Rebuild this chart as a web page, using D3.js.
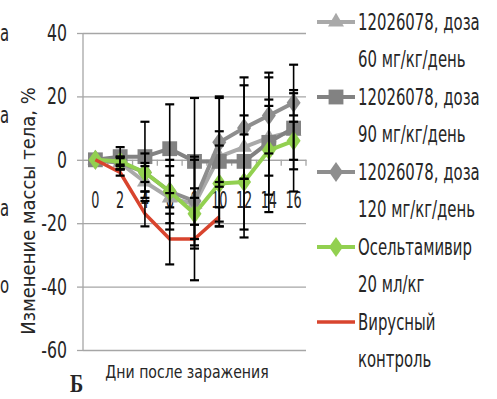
<!DOCTYPE html>
<html><head><meta charset="utf-8">
<script src="https://cdn.jsdelivr.net/npm/d3@7"></script>
<style>
body{margin:0;background:#fff;}
svg{display:block;}
text{font-family:"DejaVu Sans Condensed","Liberation Sans Narrow",sans-serif;fill:#262626;}
</style></head>
<body>
<svg id="c" width="497" height="399"></svg>
<script>
const days = [0, 2, 4, 6, 8, 10, 12, 14, 16];
const yTicks = [-60, -40, -20, 0, 20, 40];
const dose60 = [0, -1, -7, -12, -14, 1, 4, 7, 9];
const dose60Err = [0, 2, 5, 10, 14, 8, 10, 12, 12];
const dose90 = [0, 1, 1, 3.5, -0.5, -0.5, -0.5, 5.5, 10];
const dose90Err = [0, 3, 11, 14, 20, 20.5, 24, 22, 20];
const dose120 = [0, -1, -4, -10, -13, 5.5, 10, 14, 18];
const dose120Err = [0, 2, 6, 10, 14, 14, 16, 12, 4];
const oselt = [0, -0.5, -4, -10, -17, -7.5, -7, 3, 6];
const oseltErr = [0, 1, 3, 5, 8, 12, 15, 14, 6];
const virus = [0, -4, -17, -25, -25, -18];
const virusErr = [0, 1, 4, 8, 13, 3];
const legendLines = [
  ["12026078, доза", "60 мг/кг/день"],
  ["12026078, доза", "90 мг/кг/день"],
  ["12026078, доза", "120 мг/кг/день"],
  ["Осельтамивир", "20 мл/кг"],
  ["Вирусный", "контроль"]
];
const leftFragments = ["а", "а", "а", "о"];

const svg = d3.select("#c");
const x = d3.scalePoint().domain(days).range([83, 306]).padding(0.5);
const xb = d3.scaleBand().domain(days).range([83, 306]);
const y = d3.scaleLinear().domain([-60, 40]).range([350, 33]);

function label(parent, tx, ty, str, size, sx, anchor) {
  return parent.append("text")
    .attr("transform", `translate(${tx},${ty}) scale(${sx},1)`)
    .attr("text-anchor", anchor || "start").attr("dy", "0.35em")
    .style("font-size", size + "px").text(str);
}

// gridlines
const grid = svg.append("g").attr("transform", "translate(83,0)")
  .call(d3.axisLeft(y).tickValues(yTicks).tickSize(-223).tickFormat(""));
grid.select(".domain").remove();
grid.selectAll("line").attr("stroke", "#a6a6a6").attr("stroke-width", 1.3);

// y axis
const ya = svg.append("g").attr("transform", "translate(83,0)")
  .call(d3.axisLeft(y).tickValues(yTicks).tickSize(6).tickFormat(""));
ya.select(".domain").attr("stroke", "#a6a6a6").attr("stroke-width", 1.3).attr("d", "M0," + y(-60) + "V" + y(40));
ya.selectAll("line").attr("stroke", "#a6a6a6").attr("stroke-width", 1.3);
const ytl = svg.append("g");
yTicks.forEach(v => label(ytl, 67, y(v), String(v), 23, 0.76, "end"));

// x axis at zero
const xa = svg.append("g").attr("transform", "translate(0," + y(0) + ")")
  .call(d3.axisBottom(x).tickSize(0).tickFormat(""));
xa.select(".domain").attr("stroke", "#a6a6a6").attr("stroke-width", 1.3);
svg.append("g").selectAll("line").data(days.slice(1).concat(["end"])).join("line")
  .attr("x1", d => d === "end" ? 306 : xb(d)).attr("x2", d => d === "end" ? 306 : xb(d))
  .attr("y1", y(0)).attr("y2", y(0) + 6)
  .attr("stroke", "#a6a6a6").attr("stroke-width", 1.3);
const xtl = svg.append("g");
days.forEach(d => label(xtl, x(d), 200, String(d), 23, 0.62, "middle"));

const series = [
  {vals: dose60, err: dose60Err, color: "#a9a9a9", marker: "tri", w: 4},
  {vals: dose90, err: dose90Err, color: "#828282", marker: "sq", w: 4},
  {vals: dose120, err: dose120Err, color: "#8e8e8e", marker: "dia", w: 4},
  {vals: oselt, err: oseltErr, color: "#92d050", marker: "dia", w: 4},
  {vals: virus, err: virusErr, color: "#d8442e", marker: "none", w: 3.5}
];
function markerPath(type) {
  if (type === "tri") return d3.symbol(d3.symbolTriangle, 110)();
  if (type === "sq") return d3.symbol(d3.symbolSquare, 220)();
  if (type === "dia") return "M0,-10L7,0L0,10L-7,0Z";
  return null;
}
const line = d3.line().x((d, i) => x(days[i])).y(d => y(d));
series.forEach(s => {
  const g = svg.append("g");
  g.append("path").attr("d", line(s.vals)).attr("fill", "none")
    .attr("stroke", s.color).attr("stroke-width", s.w).attr("stroke-linejoin", "round");
  if (s.marker !== "none") {
    g.selectAll("path.m").data(s.vals).join("path").attr("class", "m")
      .attr("d", markerPath(s.marker))
      .attr("transform", (d, i) => `translate(${x(days[i])},${y(d)})`)
      .attr("fill", s.color);
  }
});
// error bars
series.forEach(s => {
  const g = svg.append("g");
  s.vals.forEach((v, i) => {
    const e = s.err[i];
    if (!e) return;
    const cx = x(days[i]);
    g.append("line").attr("x1", cx).attr("x2", cx).attr("y1", y(v + e)).attr("y2", y(v - e))
      .attr("stroke", "#000").attr("stroke-width", 1.6);
    [v + e, v - e].forEach(t => {
      g.append("line").attr("x1", cx - 4.5).attr("x2", cx + 4.5).attr("y1", y(t)).attr("y2", y(t))
        .attr("stroke", "#000").attr("stroke-width", 2.2);
    });
  });
});

// legend
const lg = svg.append("g");
legendLines.forEach((lines, i) => {
  const s = series[i];
  const yy = 22 + i * 75;
  lg.append("line").attr("x1", 317).attr("x2", 355).attr("y1", yy).attr("y2", yy)
    .attr("stroke", s.color).attr("stroke-width", s.w);
  if (s.marker !== "none") {
    lg.append("path").attr("d", markerPath(s.marker)).attr("transform", `translate(336,${yy})`).attr("fill", s.color);
  }
  lines.forEach((t, j) => label(lg, 358, yy + j * 37, t, 23, 0.72, "start"));
});

// left fragments
const fy = [33, 115, 208, 285];
leftFragments.forEach((t, i) => label(svg, 0, fy[i], t, 23, 0.72, "start"));

// axis titles
svg.append("text").attr("transform", "translate(35,211) rotate(-90)").attr("text-anchor", "middle")
  .style("font-size", "20px").text("Изменение массы тела, %");
svg.append("text").attr("transform", "translate(187,378) scale(0.87,1)").attr("text-anchor", "middle")
  .style("font-size", "18px").text("Дни после заражения");
svg.append("text").attr("transform", "translate(70,392) scale(0.8,1)")
  .style("font-family", "'Liberation Serif', 'DejaVu Serif', serif").style("font-weight", "bold")
  .style("font-size", "25px").attr("fill", "#000").text("Б");
</script>
</body></html>
